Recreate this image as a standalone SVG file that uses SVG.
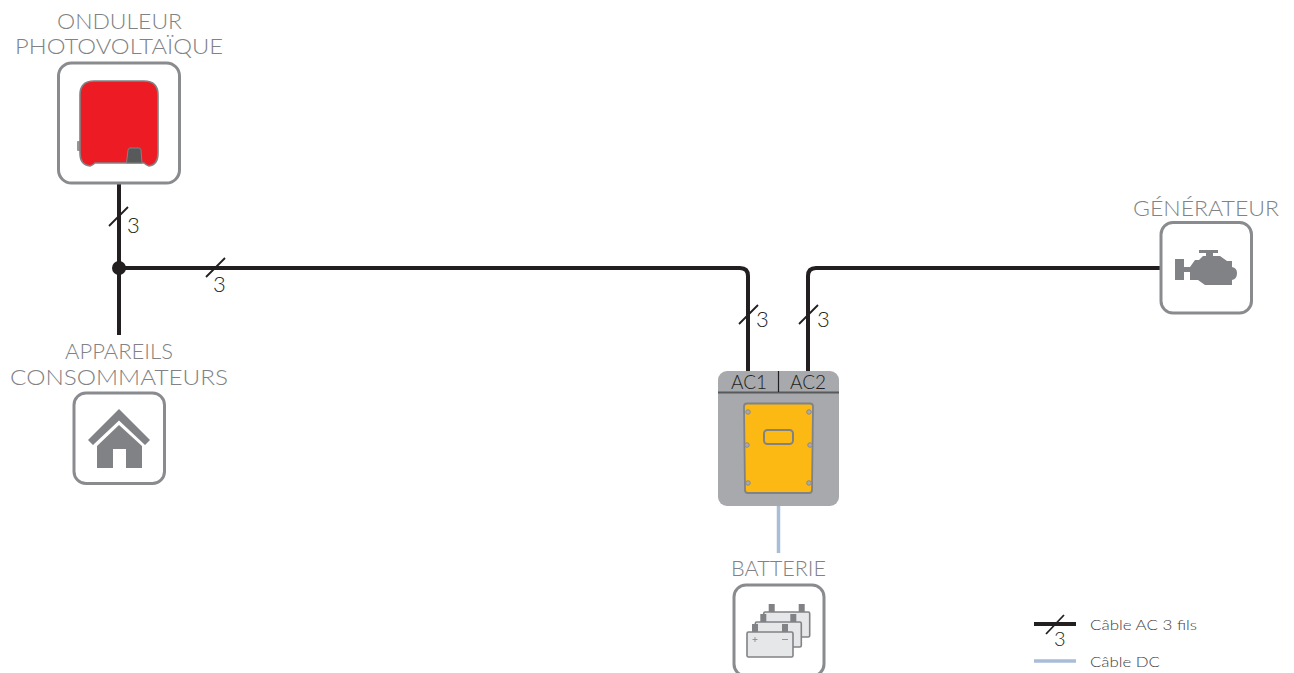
<svg xmlns="http://www.w3.org/2000/svg" width="1294" height="673" viewBox="0 0 1294 673">
<style>
text{font-family:"Lato","Liberation Sans",sans-serif;font-weight:300}
.lab{font-size:22px;fill:#808285}
.num{font-size:22px;fill:#231f20}
.ac{font-size:20px;fill:#231f20}
.leg{font-size:14.5px;fill:#414042}
.box{fill:#fff;stroke:#898b8e;stroke-width:3}
.w{fill:none;stroke:#231f20;stroke-width:4}
.s{fill:none;stroke:#231f20;stroke-width:1.800}
.dc{fill:none;stroke:#a9bcd8;stroke-width:3.500}
.g{fill:#808285}
.bat{fill:#e6e7e8;stroke:#808285;stroke-width:1.600}
.scr{fill:#a7a9ac;stroke:#808285;stroke-width:.8}
</style>
<defs>
<g id="battery">
<rect x="752" y="624" width="6" height="8" class="g"/>
<rect x="782" y="624" width="6" height="8" class="g"/>
<rect x="747" y="632" width="46" height="25" rx="1.500" class="bat"/>
</g>
</defs>
<g id="connectors">
<path class="w" d="M119 183V335"/>
<path class="w" d="M119 268H740Q748 268 748 276V371"/>
<path class="w" d="M808 371V276Q808 268 816 268H1161"/>
<circle cx="119" cy="268" r="7" fill="#231f20"/>
<path class="s" d="M109 226L128 207M206 277L225 258M739 324L758 305M799 324L818 305"/>
<path class="dc" d="M778.500 506V553"/>
</g>
<g id="labels-3">
<text class="num" x="127" y="233">3</text>
<text class="num" x="213" y="292">3</text>
<text class="num" x="756" y="327">3</text>
<text class="num" x="817" y="327">3</text>
</g>
<g id="onduleur">
<text class="lab" x="57" y="29" textLength="125" lengthAdjust="spacingAndGlyphs">ONDULEUR</text>
<text class="lab" x="15" y="54" textLength="208" lengthAdjust="spacingAndGlyphs">PHOTOVOLTAÏQUE</text>
<rect class="box" x="58.500" y="63" width="121" height="120" rx="13"/>
<rect x="77" y="141" width="5" height="10" rx="1" fill="#939598"/>
<path d="M94 81H144Q158 81 158 95V153Q158 165 149 166Q146 165 144 163H95Q93 165 90 166Q80 165 80 153V95Q80 81 94 81Z" fill="#ed1c24" stroke="#808285" stroke-width="1.600"/>
<path d="M126.500 163L128 150Q128.500 148 130 148H139Q140.500 148 141 150L142 163Z" fill="#58595b" stroke="#808285"/>
</g>
<g id="appareils">
<text class="lab" x="65" y="359" textLength="108" lengthAdjust="spacingAndGlyphs">APPAREILS</text>
<text class="lab" x="10" y="385" textLength="218" lengthAdjust="spacingAndGlyphs">CONSOMMATEURS</text>
<rect class="box" x="74" y="393" width="90.500" height="90.500" rx="12"/>
<path class="g" d="M119 409L150 440L145 445L119 420.500L93 445L88 440Z"/>
<path class="g" d="M119 425L142 446V468H126V449H113V468H97V446Z"/>
</g>
<g id="generateur">
<text class="lab" x="1133" y="216" textLength="146" lengthAdjust="spacingAndGlyphs">GÉNÉRATEUR</text>
<rect class="box" x="1161" y="222.500" width="90.500" height="90.500" rx="12"/>
<path class="g" d="M1175 259H1184V267H1190L1195 260H1199L1203 256H1206V253H1199V250H1218V253H1213V256H1220L1227 261H1232V267Q1237 268 1237 273Q1237 279 1232 280V285H1205L1198 280H1190V272H1184V280H1175Z"/>
</g>
<g id="sunny-island">
<rect x="718" y="371" width="121" height="135" rx="9" fill="#a7a9ac"/>
<path d="M718 392.500H839" stroke="#58595b" stroke-width="2" fill="none"/>
<path d="M778.500 371V392" stroke="#231f20" stroke-width="1.200" fill="none"/>
<text class="ac" x="731" y="389" textLength="36" lengthAdjust="spacingAndGlyphs">AC1</text>
<text class="ac" x="790" y="389" textLength="36" lengthAdjust="spacingAndGlyphs">AC2</text>
<path d="M747 403.500H810Q813 403.500 813 406.500L812 490Q812 493 809 493H748Q745 493 745 490L744 406.500Q744 403.500 747 403.500Z" fill="#fdb913" stroke="#808285" stroke-width="1.800"/>
<rect x="764" y="430" width="29" height="14" rx="3.500" fill="none" stroke="#808285" stroke-width="2"/>
<circle cx="748" cy="412" r="2.300" class="scr"/><circle cx="809" cy="412" r="2.300" class="scr"/>
<circle cx="747" cy="445" r="2.300" class="scr"/><circle cx="810" cy="445" r="2.300" class="scr"/>
<circle cx="748" cy="483" r="2.300" class="scr"/><circle cx="809" cy="483" r="2.300" class="scr"/>
</g>
<g id="batterie">
<text class="lab" x="731" y="576" textLength="95" lengthAdjust="spacingAndGlyphs">BATTERIE</text>
<rect class="box" x="734" y="585" width="90" height="91" rx="12"/>
<use href="#battery" x="16.700" y="-20"/>
<use href="#battery" x="8.300" y="-10"/>
<use href="#battery"/>
<path d="M752.500 639.500H757.500M755 637V642M782 639.500H788" stroke="#939598" stroke-width="1" fill="none"/>
</g>
<g id="legende">
<path class="w" d="M1034 624H1076"/>
<path class="s" d="M1046 634L1064 615"/>
<text class="num" x="1054" y="646" style="font-size:20px">3</text>
<text class="leg" x="1090" y="630" textLength="107" lengthAdjust="spacingAndGlyphs">Câble AC 3 fils</text>
<path class="dc" d="M1034 661H1076"/>
<text class="leg" x="1090" y="667" textLength="70" lengthAdjust="spacingAndGlyphs">Câble DC</text>
</g>
</svg>
